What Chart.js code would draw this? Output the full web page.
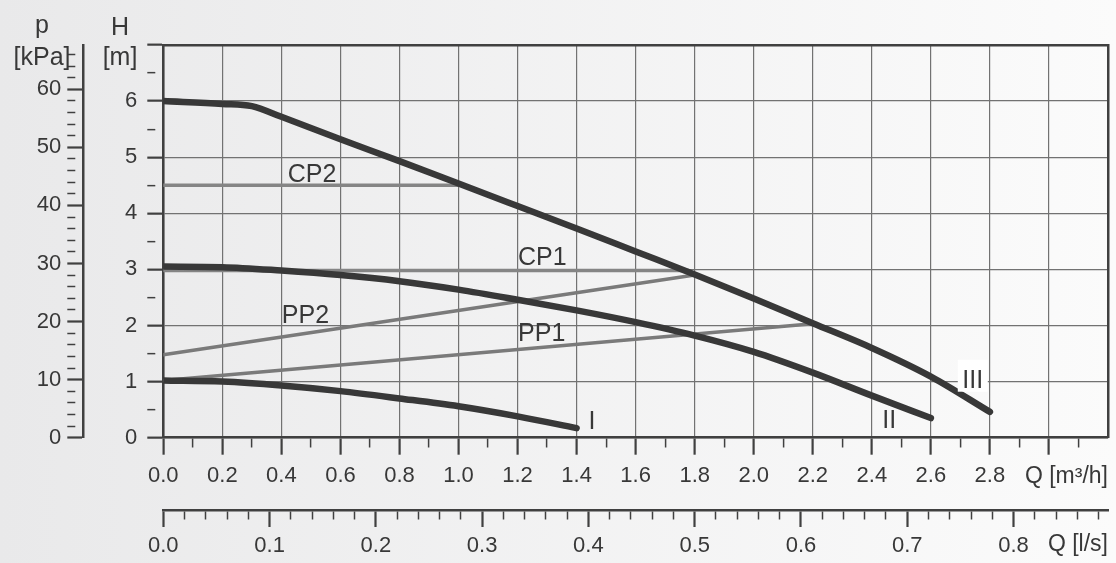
<!DOCTYPE html>
<html lang="en">
<head>
<meta charset="UTF-8">
<title>Pump characteristic</title>
<script src="https://cdn.jsdelivr.net/npm/chart.js@4"></script>
<style>
    html, body { margin: 0; padding: 0; }
    body {
        width: 1116px;
        height: 563px;
        overflow: hidden;
        background: linear-gradient(to right, #e9e9ea, #fbfbfb);
    }
    canvas { display: block; }
</style>
</head>
<body>
<canvas id="pumpChart" width="1116" height="563"></canvas>
<script>
// flow Q [m3/h] and head H [m]
const qIII = [0, 0.2, 0.3, 0.4, 0.6, 0.8, 1.0, 1.2, 1.4, 1.6, 1.8, 2.0, 2.2, 2.4, 2.6, 2.8];
const hIII = [6.0, 5.95, 5.91, 5.72, 5.32, 4.93, 4.53, 4.13, 3.73, 3.32, 2.91, 2.48, 2.04, 1.6, 1.09, 0.46];
const qII  = [0, 0.2, 0.4, 0.6, 0.8, 1.0, 1.2, 1.4, 1.6, 1.8, 2.0, 2.2, 2.4, 2.6];
const hII  = [3.05, 3.04, 2.98, 2.9, 2.79, 2.64, 2.46, 2.27, 2.06, 1.82, 1.53, 1.16, 0.75, 0.35];
const qI   = [0, 0.2, 0.4, 0.6, 0.8, 1.0, 1.2, 1.4];
const hI   = [1.02, 1.0, 0.93, 0.83, 0.7, 0.56, 0.38, 0.17];

// control lines (constant / proportional pressure)
const qCP2 = [0, 1.0];
const hCP2 = [4.5, 4.5];
const qCP1 = [0, 1.78];
const hCP1 = [2.98, 2.98];
const qPP2 = [0, 1.8];
const hPP2 = [1.48, 2.9];
const qPP1 = [0, 2.2];
const hPP1 = [1.02, 2.03];

// tick labels
const qLabels  = ['0.0', '0.2', '0.4', '0.6', '0.8', '1.0', '1.2', '1.4', '1.6', '1.8', '2.0', '2.2', '2.4', '2.6', '2.8'];
const lsLabels = ['0.0', '0.1', '0.2', '0.3', '0.4', '0.5', '0.6', '0.7', '0.8'];
const hLabels  = ['0', '1', '2', '3', '4', '5', '6'];
const pLabels  = ['0', '10', '20', '30', '40', '50', '60'];

const Q_MAX = 3.2;
const H_MAX = 7;
const P_MAX = 67.63;
const M3H_PER_LS = 3.6;

const FAMILY = "'Liberation Sans', Arial, Helvetica, sans-serif";
const TEXT = '#383838';
const AXIS = '#404040';
const GRID = '#727272';
const CURVE = '#383838';
const CP_GREY = '#858585';
const PP_GREY = '#7a7a7a';

function series(qs, hs, color, width) {
    return {
        data: qs.map((q, i) => ({ x: q, y: hs[i] })),
        borderColor: color,
        borderWidth: width,
        borderCapStyle: 'round',
        borderJoinStyle: 'round',
        cubicInterpolationMode: 'monotone',
        pointRadius: 0,
        fill: false
    };
}

// major/minor helpers
const qMajor  = v => Math.round(v * 10) % 2 === 0;
const lsMajor = v => Math.round(v * 50) % 5 === 0;
const hMajor  = v => Math.round(v * 2) % 2 === 0;
const pMajor  = v => Math.round(v / 2) % 5 === 0;

function tickDash(isMajor, minorLen) {
    return c => (c.tick && !isMajor(c.tick.value)) ? [minorLen, 200] : [];
}
function tickW(isMajor) {
    return c => (c.tick && !isMajor(c.tick.value)) ? 1.5 : 2.2;
}
const tickFont = { family: FAMILY, size: 22 };

// free text on the chart
const notes = {
    id: 'notes',
    afterDatasetsDraw(chart) {
        const { ctx, scales: { x, y } } = chart;
        ctx.save();
        ctx.fillStyle = TEXT;
        ctx.font = '25px ' + FAMILY;
        ctx.textBaseline = 'alphabetic';

        ctx.textAlign = 'center';
        ctx.fillText('p', 42, 33);
        ctx.fillText('[kPa]', 42, 65);
        ctx.fillText('H', 120, 34.5);
        ctx.fillText('[m]', 120, 65);

        ctx.textAlign = 'left';
        ctx.fillText('CP2', x.getPixelForValue(0.425) - 1, y.getPixelForValue(4.56));
        ctx.fillText('CP1', x.getPixelForValue(1.205) - 1, y.getPixelForValue(3.08));
        ctx.fillText('PP2', x.getPixelForValue(0.405) - 1, y.getPixelForValue(2.05));
        ctx.fillText('PP1', x.getPixelForValue(1.205) - 1, y.getPixelForValue(1.73));

        ctx.textAlign = 'center';
        ctx.fillText('I', x.getPixelForValue(1.452), y.getPixelForValue(0.155));
        ctx.fillText('II', x.getPixelForValue(2.459), y.getPixelForValue(0.168));

        const ix = x.getPixelForValue(2.742);
        const iy = y.getPixelForValue(0.891);
        ctx.fillStyle = '#ffffff';
        ctx.fillRect(ix - 15, iy - 28, 30, 32);
        ctx.fillStyle = TEXT;
        ctx.fillText('III', ix, iy);
        ctx.restore();
    }
};

const ctx = document.getElementById('pumpChart').getContext('2d');

new Chart(ctx, {
    type: 'line',
    data: {
        datasets: [
            series(qIII, hIII, CURVE, 6.5),
            series(qII, hII, CURVE, 6.5),
            series(qI, hI, CURVE, 6.5),
            series(qCP2, hCP2, CP_GREY, 3.6),
            series(qCP1, hCP1, CP_GREY, 3.6),
            series(qPP2, hPP2, PP_GREY, 3.6),
            series(qPP1, hPP1, PP_GREY, 3.6)
        ]
    },
    options: {
        responsive: false,
        animation: false,
        events: [],
        layout: { padding: { top: 45, right: 7.7, left: 0, bottom: 0 } },
        plugins: {
            legend: { display: false },
            tooltip: { enabled: false }
        },
        scales: {
            x: {
                type: 'linear', position: 'bottom', weight: 0,
                min: 0, max: Q_MAX,
                afterFit: s => { s.height = 72.3; },
                ticks: {
                    stepSize: 0.1, autoSkip: false, maxRotation: 0, minRotation: 0,
                    includeBounds: false, maxTicksLimit: 100, padding: 8,
                    color: TEXT, font: tickFont,
                    callback: v => {
                        const k = Math.round(v * 10);
                        return k % 2 === 0 ? (qLabels[k / 2] || '') : '';
                    }
                },
                grid: {
                    color: c => (c.tick && qMajor(c.tick.value)) ? GRID : 'transparent',
                    lineWidth: 1.2,
                    tickLength: 17,
                    tickColor: c => (c.tick && c.tick.value > Q_MAX - 0.05) ? 'transparent' : AXIS,
                    tickWidth: tickW(qMajor),
                    tickBorderDash: tickDash(qMajor, 9)
                },
                border: { color: AXIS, width: 2.5 },
                title: {
                    display: true, text: 'Q [m³/h]', align: 'end', color: TEXT,
                    font: { family: FAMILY, size: 23 },
                    padding: { top: 0, bottom: 20 }
                }
            },
            x2: {
                type: 'linear', position: 'bottom', weight: 1,
                min: 0, max: Q_MAX / M3H_PER_LS,
                afterFit: s => { s.height = 53; },
                ticks: {
                    stepSize: 0.02, autoSkip: false, maxRotation: 0, minRotation: 0,
                    includeBounds: false, maxTicksLimit: 100, padding: 6,
                    color: TEXT, font: tickFont,
                    callback: v => {
                        const k = Math.round(v * 50);
                        return k % 5 === 0 ? (lsLabels[k / 5] || '') : '';
                    }
                },
                grid: {
                    drawOnChartArea: false,
                    tickLength: 17,
                    tickColor: AXIS,
                    tickWidth: tickW(lsMajor),
                    tickBorderDash: tickDash(lsMajor, 8)
                },
                border: { color: AXIS, width: 2.5 },
                title: {
                    display: true, text: 'Q [l/s]', align: 'end', color: TEXT,
                    font: { family: FAMILY, size: 23 },
                    padding: { top: 0, bottom: 5 }
                }
            },
            xTop: {
                type: 'linear', position: 'top',
                min: 0, max: Q_MAX,
                afterFit: s => { s.height = 0; },
                ticks: { display: false },
                grid: { drawOnChartArea: false, drawTicks: false },
                border: { color: AXIS, width: 2.5 }
            },
            y: {
                type: 'linear', position: 'left', weight: 0,
                min: 0, max: H_MAX,
                afterFit: s => { s.width = 80; },
                ticks: {
                    stepSize: 0.5, autoSkip: false, includeBounds: false, maxTicksLimit: 100,
                    padding: 10, color: TEXT, font: tickFont,
                    callback: v => {
                        const k = Math.round(v * 2);
                        return k % 2 === 0 ? (hLabels[k / 2] || '') : '';
                    }
                },
                grid: {
                    color: c => (c.tick && hMajor(c.tick.value)) ? GRID : 'transparent',
                    lineWidth: 1.3,
                    tickLength: 16,
                    tickColor: AXIS,
                    tickWidth: tickW(hMajor),
                    tickBorderDash: tickDash(hMajor, 8)
                },
                border: { color: AXIS, width: 2.5 }
            },
            y2: {
                type: 'linear', position: 'left', weight: 1,
                min: 0, max: P_MAX,
                afterFit: s => { s.width = 83.3; },
                ticks: {
                    stepSize: 2, autoSkip: false, includeBounds: false, maxTicksLimit: 100,
                    padding: 6, color: TEXT, font: tickFont,
                    callback: v => {
                        const k = Math.round(v / 2);
                        return k % 5 === 0 ? (pLabels[k / 5] || '') : '';
                    }
                },
                grid: {
                    drawOnChartArea: false,
                    tickLength: 16,
                    tickColor: AXIS,
                    tickWidth: tickW(pMajor),
                    tickBorderDash: tickDash(pMajor, 8)
                },
                border: { color: AXIS, width: 2.5 }
            },
            yRight: {
                type: 'linear', position: 'right',
                min: 0, max: H_MAX,
                afterFit: s => { s.width = 0; },
                ticks: { display: false },
                grid: { drawOnChartArea: false, drawTicks: false },
                border: { color: AXIS, width: 2.5 }
            }
        }
    },
    plugins: [notes]
});
</script>
</body>
</html>
